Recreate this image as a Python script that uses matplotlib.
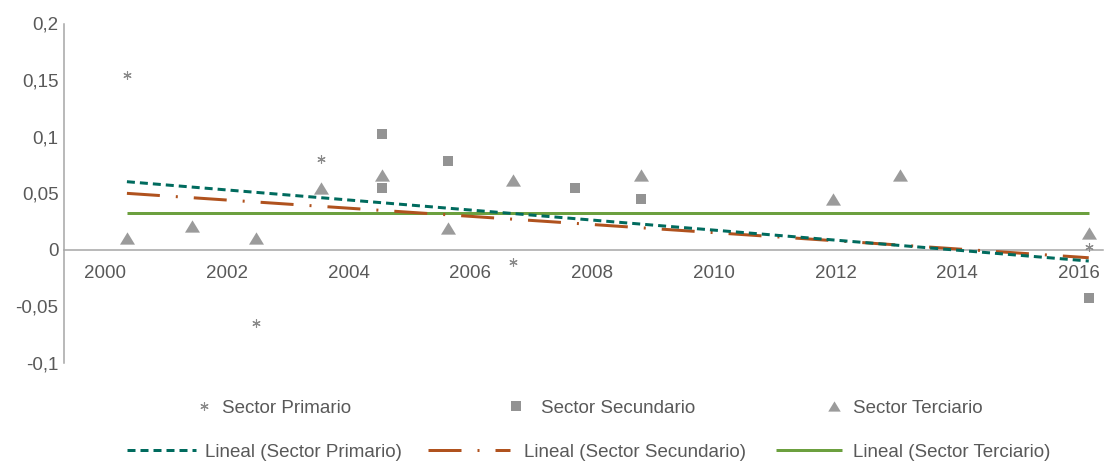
import matplotlib
matplotlib.use("Agg")
import matplotlib.pyplot as plt
from matplotlib import font_manager
from matplotlib.lines import Line2D
from matplotlib.path import Path

# ---------------- data ----------------
primary_x = [2000.36, 2002.48, 2003.55, 2006.70, 2016.16]
primary_y = [0.154, -0.065, 0.080, -0.011, 0.0025]

secondary_x = [2004.55, 2004.55, 2005.64, 2007.72, 2008.80, 2016.16]
secondary_y = [0.102, 0.054, 0.078, 0.054, 0.045, -0.043]

tertiary_x = [2000.36, 2001.43, 2002.48, 2003.55, 2004.55, 2005.64,
              2006.70, 2008.80, 2011.96, 2013.06, 2016.16]
tertiary_y = [0.010, 0.021, 0.010, 0.054, 0.066, 0.019,
              0.0615, 0.0657, 0.045, 0.066, 0.0143]

trend_x = [2000.36, 2016.16]
trend_primary = [0.060, -0.0102]
trend_secondary = [0.0497, -0.0073]
trend_tertiary = [0.0323, 0.0323]

x_ticks = [2000, 2002, 2004, 2006, 2008, 2010, 2012, 2014, 2016]
x_tick_labels = ["2000", "2002", "2004", "2006", "2008", "2010", "2012", "2014", "2016"]
y_ticks = [-0.1, -0.05, 0, 0.05, 0.1, 0.15, 0.2]
y_tick_labels = ["-0,1", "-0,05", "0", "0,05", "0,1", "0,15", "0,2"]

series_labels = ["Sector Primario", "Sector Secundario", "Sector Terciario"]
trend_labels = ["Lineal (Sector Primario)", "Lineal (Sector Secundario)",
                "Lineal (Sector Terciario)"]

# ---------------- style ----------------
def has_font(name):
    try:
        font_manager.findfont(font_manager.FontProperties(family=name),
                              fallback_to_default=False)
        return True
    except Exception:
        return False

if has_font("Liberation Sans Narrow"):
    FAM = ["Liberation Sans Narrow", "DejaVu Sans"]
    FS = 15
else:
    FAM = ["Liberation Sans", "DejaVu Sans"]
    FS = 13.5
plt.rcParams["font.family"] = FAM

TXT = "#595959"
AXC = "#A6A6A6"
TEAL = "#006B5E"
ORANGE = "#B0521E"
GREEN = "#6CA03F"
GREY_SQ = "#939393"
GREY_TR = "#9B9B9B"
GREY_ST = "#8A8A8A"

W, H = 1105, 466
DPI = 100
fig = plt.figure(figsize=(W / DPI, H / DPI), dpi=DPI)
px = 72.0 / DPI  # points per pixel

ax_left, ax_right = 64, 1103
ax_top, ax_bot = 23.5, 362.5
ax = fig.add_axes([ax_left / W, 1 - ax_bot / H, (ax_right - ax_left) / W,
                   (ax_bot - ax_top) / H])

x_px_per_year = 60.875
ax.set_xlim(2000 - (105 - ax_left) / x_px_per_year,
            2016 + (ax_right - 1079) / x_px_per_year)
ax.set_ylim(-0.1, 0.2)

lw = 3 * px
teal_ls = (0, (8 * px / lw, 5 * px / lw))
orange_ls = (0, (33 * px / lw, 16 * px / lw, 2 * px / lw, 16 * px / lw))

# Excel-like triangle (wider than tall)
tri_marker = Path([(0, 0.82), (-1, -0.82), (1, -0.82), (0, 0.82)],
                  [Path.MOVETO, Path.LINETO, Path.LINETO, Path.CLOSEPOLY])
star_marker = (6, 2, 0)

ax.plot(primary_x, primary_y, linestyle="none", marker=star_marker,
        markersize=6, markeredgecolor=GREY_ST, markeredgewidth=0.8,
        color=GREY_ST, zorder=3)
ax.plot(secondary_x, secondary_y, linestyle="none", marker="s",
        markersize=7.8, color=GREY_SQ, markeredgewidth=0, zorder=3)
ax.plot(tertiary_x, tertiary_y, linestyle="none", marker=tri_marker,
        markersize=10.8, color=GREY_TR, markeredgewidth=0, zorder=3)

ax.plot(trend_x, trend_tertiary, color=GREEN, lw=lw, solid_capstyle="butt", zorder=4)
ax.plot(trend_x, trend_secondary, color=ORANGE, lw=lw, linestyle=orange_ls,
        dash_capstyle="butt", zorder=4)
ax.plot(trend_x, trend_primary, color=TEAL, lw=lw, linestyle=teal_ls,
        dash_capstyle="butt", zorder=5)

for s in ["top", "right"]:
    ax.spines[s].set_visible(False)
ax.spines["bottom"].set_position(("data", 0))
for s in ["left", "bottom"]:
    ax.spines[s].set_color(AXC)
    ax.spines[s].set_linewidth(1.1)

ax.set_xticks(x_ticks)
ax.set_xticklabels(x_tick_labels)
ax.set_yticks(y_ticks)
ax.set_yticklabels(y_tick_labels)
ax.tick_params(axis="both", length=0, labelsize=FS, labelcolor=TXT)
ax.tick_params(axis="x", pad=11)
ax.tick_params(axis="y", pad=4)

# ---------------- legend (two rows, entry by entry) ----------------
fs_px = FS / px
marker_handles = [
    Line2D([], [], linestyle="none", marker=star_marker, markersize=6,
           markeredgecolor=GREY_ST, markeredgewidth=0.8, color=GREY_ST),
    Line2D([], [], linestyle="none", marker="s", markersize=7.2,
           color=GREY_SQ, markeredgewidth=0),
    Line2D([], [], linestyle="none", marker=tri_marker, markersize=9,
           color=GREY_TR, markeredgewidth=0),
]
line_handles = [
    Line2D([], [], color=TEAL, lw=lw, linestyle=teal_ls, dash_capstyle="butt"),
    Line2D([], [], color=ORANGE, lw=lw, linestyle=orange_ls, dash_capstyle="butt"),
    Line2D([], [], color=GREEN, lw=lw, solid_capstyle="butt"),
]
# (handle left px, handle right px, text left px, centre y px)
row1_layout = [(194, 214, 222, 408), (506, 526, 541, 408), (824, 844, 853, 408)]
row2_layout = [(127, 196, 205, 452), (428, 510, 524, 452), (776, 842, 853, 452)]

def place(handle, label, lay):
    hl, hr, tl, yc = lay
    fig.legend(handles=[handle], labels=[label], loc="center left",
               bbox_to_anchor=(hl / W, 1 - yc / H), frameon=False,
               borderpad=0, borderaxespad=0,
               handlelength=(hr - hl) / fs_px,
               handletextpad=(tl - hr) / fs_px,
               fontsize=FS, labelcolor=TXT, numpoints=1)

for h, l, lay in zip(marker_handles, series_labels, row1_layout):
    place(h, l, lay)
for h, l, lay in zip(line_handles, trend_labels, row2_layout):
    place(h, l, lay)

fig.savefig("out.png", dpi=DPI)
